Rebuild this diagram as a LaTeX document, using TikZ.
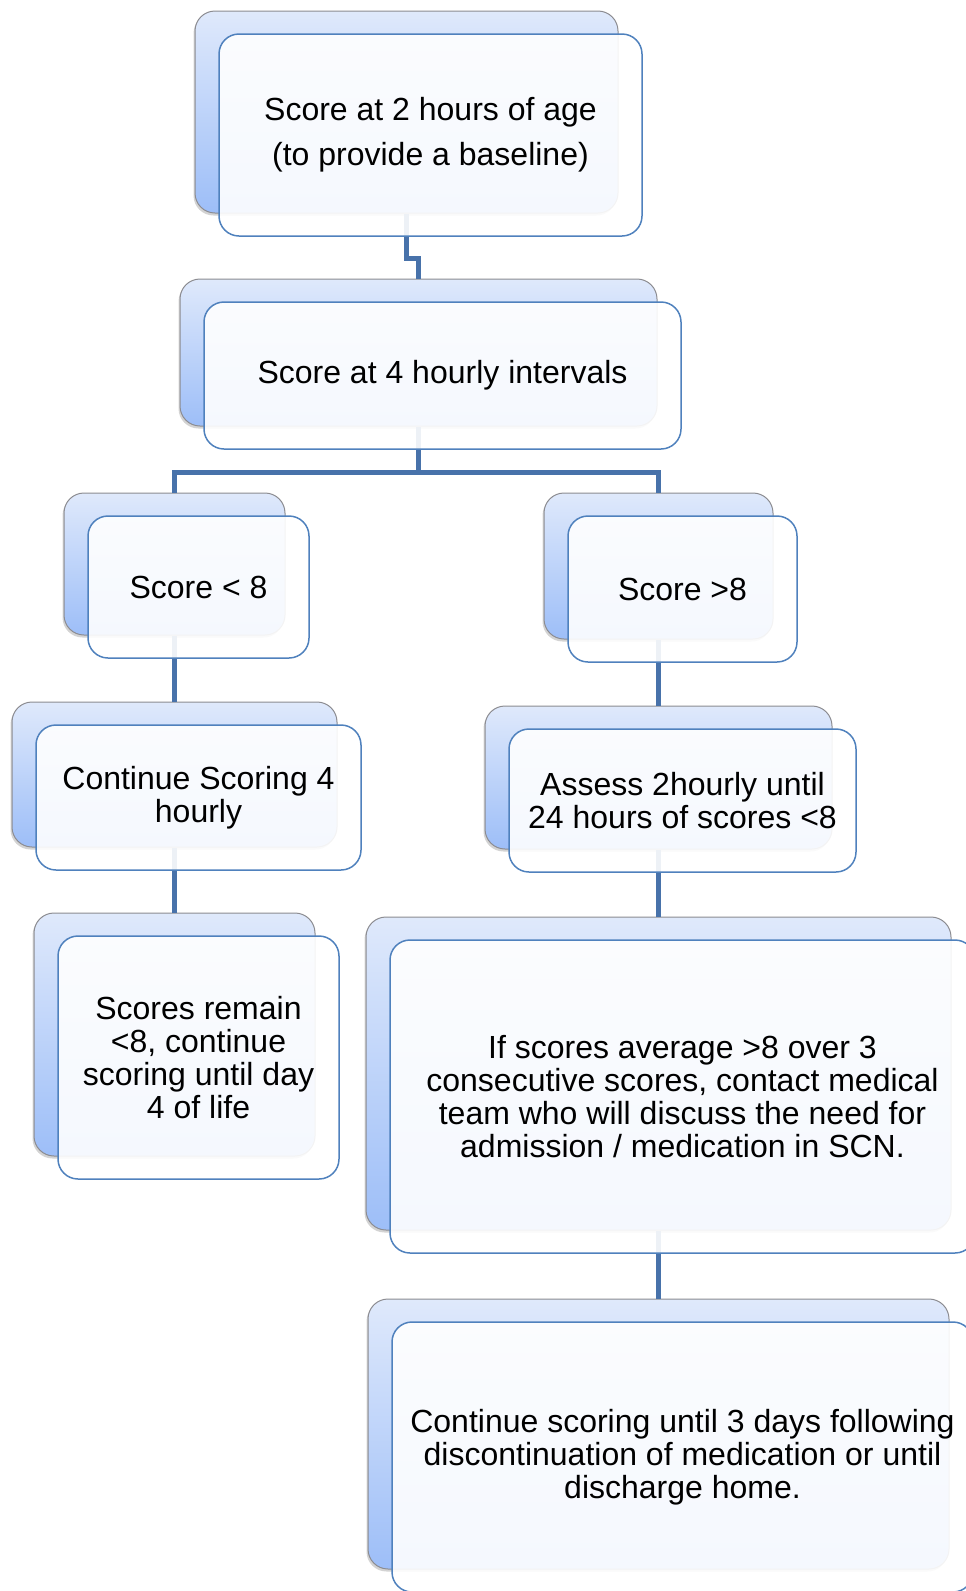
\documentclass[tikz,border=0pt]{standalone}
\usepackage{fontspec}
\setmainfont{Liberation Sans}
\usetikzlibrary{shadows}
\usetikzlibrary{positioning}
\definecolor{backtop}{RGB}{223,233,251}
\definecolor{backbottom}{RGB}{157,190,248}
\definecolor{backline}{RGB}{140,140,145}
\definecolor{frontline}{RGB}{79,129,189}
\definecolor{linkblue}{RGB}{72,114,170}
\tikzstyle{backbox}=[rectangle,rounded corners=20pt,draw=backline,line width=1pt,top color=backtop,bottom color=backbottom,inner sep=0pt,drop shadow={shadow xshift=-1.5pt,shadow yshift=-2.5pt,opacity=0.35}]
\tikzstyle{frontbox}=[rectangle,rounded corners=20pt,draw=frontline,line width=1.5pt,fill=white,fill opacity=0.9,text opacity=1,inner sep=0pt,align=center,font=\fontsize{32}{33}\selectfont]
\tikzstyle{widelines}=[font=\fontsize{32}{45}\selectfont]
\tikzstyle{link} = [draw=linkblue,line width=4.5pt]

\begin{document}
\begin{tikzpicture}[x=1pt,y=-1pt]
\useasboundingbox (0,0) rectangle (966,1591);

    % back boxes (shaded)
    \def\dx{24}
    \def\dy{23}
    \foreach \pos/\name/\w/\h in {{(406.5,112)/base/423/202}, {(418.5,352.5)/four/477/147}, {(174.5,564)/low/221/142}, {(174.5,774.5)/lowcont/325/145}, {(658.5,566)/high/229/146}, {(658.5,777.5)/assess/347/143}, {(174.5,1034.5)/lowend/281/243}, {(658.5,1073.5)/medic/585/313}, {(658.5,1434)/highend/581/270}}
        \node[backbox, minimum width=\w pt, minimum height=\h pt] (\name) at \pos {};

    % connectors between the back boxes
    \path[link] (base.south) -- ++(0,45) -| (four.north);
    \foreach \dest in {low, high}
          \path[link] (four.south) -- ++(0,46) -| (\dest.north);
    \foreach \source/ \dest in {low/lowcont, lowcont/lowend, high/assess, assess/medic, medic/highend}
          \path[link] (\source.south) -- (\dest.north);

    % front boxes with the text
    \foreach \name/\w/\h/\opt/\txt in {base/423/202/widelines/{Score at 2 hours of age\\(to provide a baseline)}, four/477/147/{}/{Score at 4 hourly intervals}, low/221/142/{}/{Score < 8}, lowcont/325/145/{}/{Continue Scoring 4\\hourly}, high/229/146/{}/{Score >8}, assess/347/143/{}/{Assess 2hourly until\\24 hours of scores <8}, lowend/281/243/{}/{Scores remain\\<8, continue\\scoring until day\\4 of life}, medic/585/313/{}/{If scores average >8 over 3\\consecutive scores, contact medical\\team who will discuss the need for\\admission / medication in SCN.}, highend/581/270/{}/{Continue scoring until 3 days following\\discontinuation of medication or until\\discharge home.}}
        \node[frontbox, \opt, minimum width=\w pt, minimum height=\h pt] (t\name) at ([shift={(\dx,\dy)}]\name.center) {\txt};

\end{tikzpicture}
\end{document}
